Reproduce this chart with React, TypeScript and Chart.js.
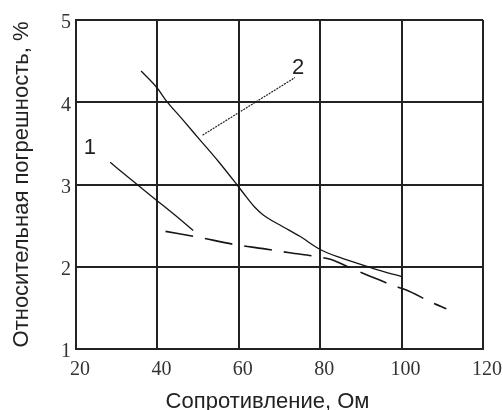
import React, { useEffect, useRef } from 'react';
import { Chart, registerables } from 'chart.js';

Chart.register(...registerables);

// Axis ranges / ticks
const xMin = 20, xMax = 120, xStep = 20;
const yMin = 1, yMax = 5, yStep = 1;

// Curve 2 (solid, upper)
const curve2X = [36, 40, 42, 46, 50.5, 55, 59.5, 62, 64, 66, 70, 75, 80, 85, 90.5, 95, 100];
const curve2Y = [4.38, 4.17, 4.03, 3.8, 3.54, 3.28, 3.0, 2.84, 2.72, 2.63, 2.51, 2.37, 2.21, 2.11, 2.02, 1.95, 1.88];

// Curve 1 (solid, short)
const curve1X = [28.4, 34.5, 40, 44, 48.8];
const curve1Y = [3.27, 3.02, 2.8, 2.64, 2.44];

// Dashed curve
const dashX = [42, 50, 59, 66, 72.5, 79.5, 82.5, 88.5, 91.5, 98, 101, 107.5, 111];
const dashY = [2.43, 2.36, 2.27, 2.22, 2.17, 2.12, 2.09, 1.96, 1.9, 1.77, 1.72, 1.565, 1.49];

// Leader line for label "2"
const leaderX = [51.1, 73.8];
const leaderY = [3.6, 4.3];

// Curve labels
const curveLabels = ['1', '2'];
const curveLabelX = [23.4, 74.6];
const curveLabelY = [3.45, 4.42];

const xTitle = 'Сопротивление, Ом';
const yTitle = 'Относительная погрешность, %';

const toPts = (xs: number[], ys: number[]) => xs.map((x, i) => ({ x, y: ys[i] }));

const textPlugin = {
  id: 'customTexts',
  afterDraw(chart: any) {
    const { ctx, chartArea, scales } = chart;
    const xs = scales.x, ys = scales.y;
    ctx.save();
    ctx.fillStyle = '#222';
    ctx.font = '22px "Liberation Sans", Arial, sans-serif';
    ctx.textAlign = 'center';
    ctx.textBaseline = 'alphabetic';
    ctx.fillText(xTitle, (chartArea.left + chartArea.right) / 2 - 12, chartArea.bottom + 59);
    ctx.save();
    ctx.translate(chartArea.left - 54, (chartArea.top + chartArea.bottom) / 2);
    ctx.rotate(-Math.PI / 2);
    ctx.textBaseline = 'middle';
    ctx.fillText(yTitle, 0, 0);
    ctx.restore();
    ctx.textBaseline = 'middle';
    curveLabels.forEach((t, i) => {
      ctx.fillText(t, xs.getPixelForValue(curveLabelX[i]), ys.getPixelForValue(curveLabelY[i]));
    });
    ctx.restore();
  },
};

export default function App() {
  const ref = useRef<HTMLCanvasElement | null>(null);
  useEffect(() => {
    if (!ref.current) return;
    const lineColor = '#151515';
    const chart = new Chart(ref.current, {
      type: 'line',
      data: {
        datasets: [
          { data: toPts(curve2X, curve2Y), borderColor: lineColor, borderWidth: 1.3, pointRadius: 0, cubicInterpolationMode: 'monotone' },
          { data: toPts(curve1X, curve1Y), borderColor: lineColor, borderWidth: 1.3, pointRadius: 0, cubicInterpolationMode: 'monotone' },
          { data: toPts(dashX, dashY), borderColor: lineColor, borderWidth: 1.6, pointRadius: 0, cubicInterpolationMode: 'monotone', borderDash: [28, 12] },
          { data: toPts(leaderX, leaderY), borderColor: '#222', borderWidth: 1.2, pointRadius: 0, borderDash: [2, 1] },
        ],
      },
      options: {
        animation: false,
        responsive: true,
        maintainAspectRatio: false,
        layout: { padding: { left: 0, top: 20, right: 20, bottom: 0 } },
        plugins: { legend: { display: false }, tooltip: { enabled: false } },
        scales: {
          x: {
            type: 'linear',
            min: xMin,
            max: xMax,
            afterFit: (s: any) => { s.height = 61; s.paddingLeft = 0; s.paddingRight = 0; },
            ticks: {
              stepSize: xStep,
              color: '#333',
              font: { family: '"Liberation Serif", "Times New Roman", serif', size: 20 },
              padding: 9,
              labelOffset: 4,
              maxRotation: 0,
            },
            grid: { color: '#222', lineWidth: 2, drawTicks: false },
            border: { color: '#222', width: 2 },
          },
          y: {
            type: 'linear',
            min: yMin,
            max: yMax,
            afterFit: (s: any) => { s.width = 76; s.paddingTop = 0; s.paddingBottom = 0; },
            ticks: {
              stepSize: yStep,
              color: '#333',
              font: { family: '"Liberation Serif", "Times New Roman", serif', size: 20 },
              padding: 5,
              labelOffset: 3,
            },
            grid: { color: '#222', lineWidth: 2, drawTicks: false },
            border: { color: '#222', width: 2 },
          },
        },
      },
      plugins: [textPlugin],
    });
    return () => chart.destroy();
  }, []);
  return (
    <div style={{ position: 'absolute', left: 0, top: 0, width: 503, height: 410, background: '#fff' }}>
      <canvas ref={ref} />
    </div>
  );
}
